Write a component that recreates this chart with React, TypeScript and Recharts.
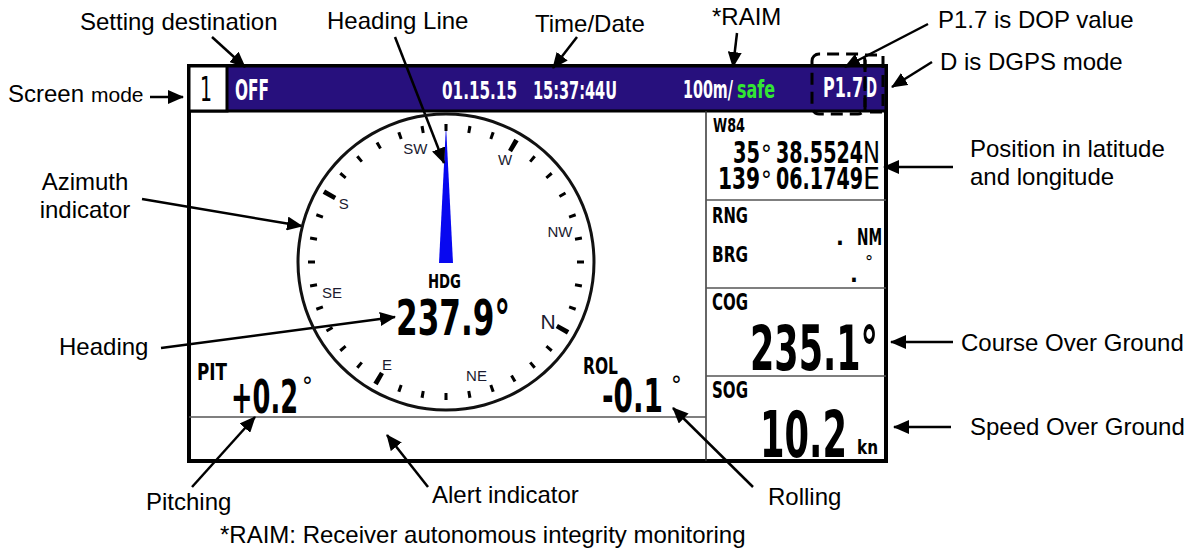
import {
  ComposedChart,
  XAxis,
  YAxis,
  Line,
  Area,
  Scatter,
  ReferenceArea,
  ReferenceLine,
  PieChart,
  Pie,
  Cell,
} from 'recharts';

const W = 1193;
const H = 550;

// ---- what the screen shows ----
const screenMode = '1';
const destination = 'OFF';
const dateText = '01.15.15';
const timeText = '15:37:44U';
const raimLimit = '100m/';
const raimStatus = 'safe';
const dopText = 'P1.7';
const fixMode = 'D';
const datum = 'W84';
const latitude = ['35', '38.5524', 'N'];
const longitude = ['139', '06.1749', 'E'];
const headingDeg = 237.9;
const cardRotation = 240; // compass card is drawn at this rotation
const pitchDeg = 0.2;
const rollDeg = -0.1;
const cogDeg = 235.1;
const sogKn = 10.2;
const fieldLabels = ['HDG', 'PIT', 'ROL', 'RNG', 'BRG', 'NM', 'COG', 'SOG', 'kn'];

// compass card
const compassPoints = ['N', 'NE', 'E', 'SE', 'S', 'SW', 'W', 'NW'];
const compassBearings = [0, 45, 90, 135, 180, 225, 270, 315];
const dialTicks = [
  0, 10, 20, 30, 40, 50, 60, 70, 80, 90, 100, 110, 120, 130, 140, 150, 160, 170,
  180, 190, 200, 210, 220, 230, 240, 250, 260, 270, 280, 290, 300, 310, 320, 330, 340, 350,
];
const majorTicks = [0, 90, 180, 270];

// callout texts
const callouts = [
  'Setting destination',
  'Heading Line',
  'Time/Date',
  '*RAIM',
  'P1.7 is DOP value',
  'D is DGPS mode',
  'Screen',
  'mode',
  'Azimuth',
  'indicator',
  'Heading',
  'Pitching',
  'Alert indicator',
  'Rolling',
  'Position in latitude',
  'and longitude',
  'Course Over Ground',
  'Speed Over Ground',
  '*RAIM: Receiver autonomous integrity monitoring',
];

// ---- layout (diagram coordinates, px) ----
const INK = '#000';
const NAVY = '#27107d';
const BLUE = '#0808f0';
const GREEN = '#33e633';
const DISPLAY = "'DejaVu Sans Condensed', 'Liberation Sans Narrow', 'DejaVu Sans', sans-serif";
const SANS = "'Liberation Sans', Arial, Helvetica, sans-serif";

const calloutAt: [number, number, number, string?][] = [
  [80, 30, 24],
  [327, 29, 24],
  [535, 32, 24],
  [712, 25, 24],
  [938, 28, 24],
  [940, 70, 24],
  [8, 102, 24],
  [91, 102, 21],
  [85, 190, 24, 'middle'],
  [85, 218, 24, 'middle'],
  [59, 355, 24],
  [146, 510, 24],
  [432, 503, 24],
  [768, 505, 24],
  [970, 157, 24],
  [970, 185, 24],
  [961, 351, 24],
  [970, 435, 24],
  [220, 543, 24],
];

const arrowFrom = [
  [212, 37], [395, 37], [577, 37], [737, 33], [928, 24], [932, 62], [150, 97], [142, 199],
  [161, 348], [192, 487], [428, 487], [753, 487], [953, 167], [953, 342], [951, 427],
];
const arrowTo = [
  [245, 67], [444, 163], [553, 68], [733, 67], [845, 67], [892, 87], [183, 97], [302, 226],
  [395, 317], [255, 417], [387, 435], [673, 408], [884, 167], [891, 342], [894, 427],
];

const needle = [
  { x: 439, y: 263 },
  { x: 446, y: 125 },
  { x: 453, y: 263 },
];
const needleBase = 263;
const dialCenter = [446, 262];

const fmtSigned = (v: number) => (v >= 0 ? '+' : '-') + Math.abs(v).toFixed(1);

type Txt = {
  x: number;
  y: number;
  text: string;
  size: number;
  font?: string;
  weight?: number;
  fill?: string;
  anchor?: string;
  len?: number;
};

const d = (x: number, y: number, text: string, size: number, len?: number, extra: Partial<Txt> = {}): Txt => ({
  x, y, text, size, len, font: DISPLAY, weight: 700, fill: INK, ...extra,
});

const screenTexts: Txt[] = [
  d(200, 101, screenMode, 34, 12, { weight: 400 }),
  d(235, 100, destination, 29, 34, { fill: '#fff' }),
  d(442, 99, dateText, 25, 75, { fill: '#fff' }),
  d(533, 99, timeText, 25, 84, { fill: '#fff' }),
  d(683, 98, raimLimit, 25, 50, { fill: '#fff' }),
  d(737, 98, raimStatus, 25, 38, { fill: GREEN }),
  d(823, 97, dopText, 27, 40, { fill: '#fff' }),
  d(866, 97, fixMode, 27, 11, { fill: '#fff' }),
  d(713, 132, datum, 19, 32),
  d(733, 163, latitude[0], 31, 27),
  d(761, 163, '°', 24, undefined, { weight: 400 }),
  d(776, 163, latitude[1], 31, 87),
  d(863, 163, latitude[2], 31, 17, { weight: 400 }),
  d(718, 189, longitude[0], 31, 42),
  d(761, 189, '°', 24, undefined, { weight: 400 }),
  d(776, 189, longitude[1], 31, 87),
  d(863, 189, longitude[2], 31, 17, { weight: 400 }),
  d(712, 223, fieldLabels[3], 22, 36),
  d(712, 262, fieldLabels[4], 22, 36),
  d(857, 245, fieldLabels[5], 23, 25),
  d(836, 245, '.', 23),
  d(865, 268, '°', 18, undefined, { weight: 400 }),
  d(850, 282, '.', 23),
  d(712, 310, fieldLabels[6], 23, 36),
  d(750, 370, `${cogDeg.toFixed(1)}°`, 62, 128),
  d(712, 398, fieldLabels[7], 23, 36),
  d(760, 457, sogKn.toFixed(1), 64, 87),
  d(857, 454, fieldLabels[8], 20, 21),
  d(428, 288, fieldLabels[0], 20, 33),
  d(396, 335, `${headingDeg.toFixed(1)}°`, 50, 114),
  d(197, 380, fieldLabels[1], 23, 30),
  d(231, 413, fmtSigned(pitchDeg), 47, 67),
  d(302, 395, '°', 24, undefined, { weight: 400 }),
  d(583, 374, fieldLabels[2], 23, 35),
  d(602, 412, fmtSigned(rollDeg), 47, 61),
  d(671, 394, '°', 24, undefined, { weight: 400 }),
];

const calloutTexts: Txt[] = callouts.map((text, i) => ({
  x: calloutAt[i][0],
  y: calloutAt[i][1],
  size: calloutAt[i][2],
  anchor: calloutAt[i][3],
  text,
  font: SANS,
  weight: 400,
  fill: INK,
}));

const renderText = (p: any) => {
  const t: Txt = p.payload;
  return (
    <text
      x={p.cx}
      y={p.cy}
      fontSize={t.size}
      fontFamily={t.font}
      fontWeight={t.weight}
      fill={t.fill}
      textAnchor={t.anchor || 'start'}
      textLength={t.len}
      lengthAdjust={t.len ? 'spacingAndGlyphs' : undefined}
    >
      {t.text}
    </text>
  );
};

// pie rings for the dial: each tick followed by the gap up to the next one
const ring = (ticks: number[], width: number) =>
  ticks.flatMap((b, i) => {
    const next = ticks[(i + 1) % ticks.length];
    const step = ((next - b + 360) % 360) || 360;
    return [
      { value: width, fill: INK },
      { value: step - width, fill: 'none' },
    ];
  });
const startFor = (bearing: number, half: number) => 90 - (bearing - cardRotation) + half;

const MINOR_W = 1.3;
const MAJOR_W = 2.0;
const minorRing = ring(dialTicks, MINOR_W);
const majorRing = ring(majorTicks, MAJOR_W);
const pointRing = compassPoints.map((name, i) => ({
  name,
  value: ((compassBearings[(i + 1) % compassBearings.length] - compassBearings[i] + 360) % 360) || 360,
}));

const renderPoint = (p: any) => {
  const name = p.name ?? p.payload?.name;
  return (
    <text
      x={p.x}
      y={p.y}
      textAnchor="middle"
      dominantBaseline="central"
      fontFamily={SANS}
      fontSize={name === 'N' ? 21 : 15}
      fill="#1b1b30"
    >
      {name}
    </text>
  );
};

export default function App() {
  const layer = { position: 'absolute' as const, left: 0, top: 0 };
  return (
    <div style={{ ...layer, width: W, height: H, background: '#fff', overflow: 'hidden' }}>
      <div style={layer}>
        <ComposedChart width={W} height={H} data={needle} margin={{ top: 0, right: 0, bottom: 0, left: 0 }}>
          <defs>
            <marker
              id="arrowHead"
              markerUnits="userSpaceOnUse"
              markerWidth={16}
              markerHeight={14}
              viewBox="0 0 16 14"
              refX={15}
              refY={7}
              orient="auto"
            >
              <path d="M0,0 L16,7 L0,14 Z" fill={INK} />
            </marker>
          </defs>
          <XAxis type="number" dataKey="x" domain={[0, W]} hide />
          <YAxis type="number" dataKey="y" domain={[0, H]} reversed hide />

          {/* screen frame, title bar, mode box */}
          <ReferenceArea x1={189} x2={886} y1={66} y2={461} fill="#fff" fillOpacity={1} stroke={INK} strokeWidth={4} />
          <ReferenceArea x1={189} x2={886} y1={66} y2={111} fill={NAVY} fillOpacity={1} stroke={INK} strokeWidth={3} />
          <ReferenceArea x1={189} x2={227} y1={66} y2={111} fill="#fff" fillOpacity={1} stroke={INK} strokeWidth={3} />

          {/* panel dividers */}
          <ReferenceLine segment={[{ x: 706, y: 111 }, { x: 706, y: 461 }]} stroke="#333" strokeWidth={1.5} />
          <ReferenceLine segment={[{ x: 706, y: 200 }, { x: 886, y: 200 }]} stroke="#555" strokeWidth={1.5} />
          <ReferenceLine segment={[{ x: 706, y: 288 }, { x: 886, y: 288 }]} stroke="#555" strokeWidth={1.5} />
          <ReferenceLine segment={[{ x: 706, y: 376 }, { x: 886, y: 376 }]} stroke="#555" strokeWidth={1.5} />
          <ReferenceLine segment={[{ x: 189, y: 417 }, { x: 706, y: 417 }]} stroke="#555" strokeWidth={1.5} />

          {/* dashed marks round DOP and fix mode */}
          <ReferenceArea x1={812} x2={865} y1={54} y2={114} fill="none" stroke={INK} strokeWidth={3} strokeDasharray="12 7" radius={7} />
          <ReferenceArea x1={865} x2={883} y1={55} y2={112} fill="none" stroke={INK} strokeWidth={3} strokeDasharray="12 7" />

          {/* heading needle */}
          <Area
            dataKey="y"
            type="linear"
            baseValue={needleBase}
            stroke="none"
            fill={BLUE}
            fillOpacity={1}
            dot={false}
            activeDot={false}
            isAnimationActive={false}
            zIndex={150}
          />

          {/* callout arrows */}
          {arrowFrom.map((from, i) => (
            <Line
              key={`arrow-${i}`}
              data={[
                { x: from[0], y: from[1] },
                { x: arrowTo[i][0], y: arrowTo[i][1] },
              ]}
              dataKey="y"
              type="linear"
              stroke={INK}
              strokeWidth={2.5}
              dot={false}
              activeDot={false}
              markerEnd="url(#arrowHead)"
              isAnimationActive={false}
            />
          ))}

          <Scatter data={screenTexts} dataKey="y" shape={renderText} isAnimationActive={false} />
          <Scatter data={calloutTexts} dataKey="y" shape={renderText} isAnimationActive={false} />
        </ComposedChart>
      </div>

      <div style={layer}>
        <PieChart width={W} height={H} margin={{ top: 0, right: 0, bottom: 0, left: 0 }}>
          {/* outer ring */}
          <Pie
            data={[{ value: 1 }]}
            dataKey="value"
            cx={dialCenter[0]}
            cy={dialCenter[1]}
            innerRadius={146.5}
            outerRadius={149.5}
            startAngle={90}
            endAngle={-270}
            fill="#111"
            stroke="none"
            isAnimationActive={false}
          />
          {/* 10 degree ticks */}
          <Pie
            data={minorRing}
            dataKey="value"
            cx={dialCenter[0]}
            cy={dialCenter[1]}
            innerRadius={131}
            outerRadius={138}
            startAngle={startFor(dialTicks[0], MINOR_W / 2)}
            endAngle={startFor(dialTicks[0], MINOR_W / 2) - 360}
            stroke="none"
            isAnimationActive={false}
          >
            {minorRing.map((c, i) => (
              <Cell key={`mi-${i}`} fill={c.fill} />
            ))}
          </Pie>
          {/* cardinal ticks */}
          <Pie
            data={majorRing}
            dataKey="value"
            cx={dialCenter[0]}
            cy={dialCenter[1]}
            innerRadius={128}
            outerRadius={141}
            startAngle={startFor(majorTicks[0], MAJOR_W / 2)}
            endAngle={startFor(majorTicks[0], MAJOR_W / 2) - 360}
            stroke="none"
            isAnimationActive={false}
          >
            {majorRing.map((c, i) => (
              <Cell key={`ma-${i}`} fill={c.fill} />
            ))}
          </Pie>
          {/* compass point names */}
          <Pie
            data={pointRing}
            dataKey="value"
            cx={dialCenter[0]}
            cy={dialCenter[1]}
            innerRadius={0}
            outerRadius={98}
            startAngle={startFor(compassBearings[0], 22.5)}
            endAngle={startFor(compassBearings[0], 22.5) - 360}
            fill="none"
            stroke="none"
            label={renderPoint}
            labelLine={false}
            isAnimationActive={false}
          />
        </PieChart>
      </div>
    </div>
  );
}
